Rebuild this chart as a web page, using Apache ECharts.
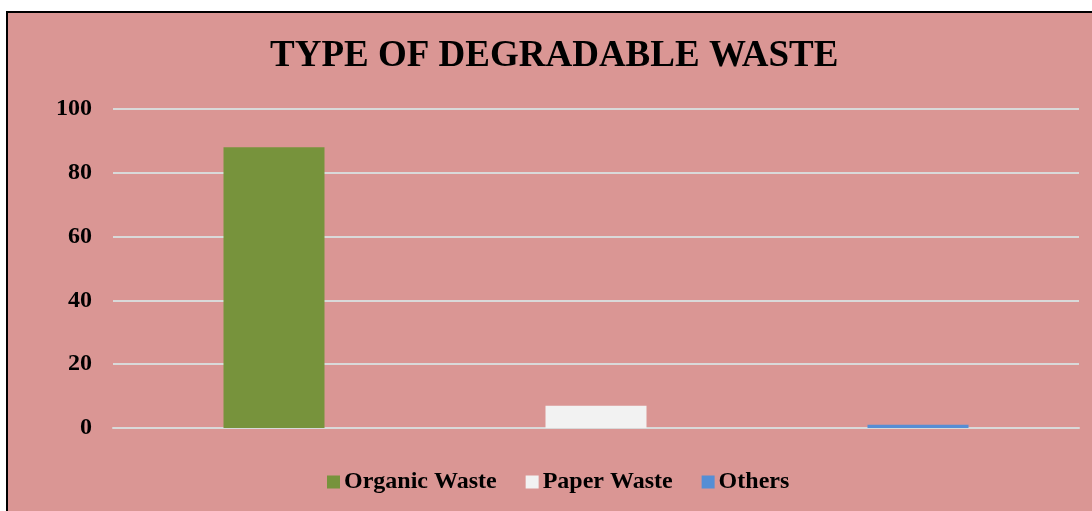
<!DOCTYPE html>
<html>
<head>
<meta charset="utf-8">
<script src="https://cdn.jsdelivr.net/npm/echarts@6/dist/echarts.min.js"></script>
<style>
  html, body { margin: 0; padding: 0; background: #ffffff; overflow: hidden; }
  #frame { position: absolute; left: 6px; top: 11px; width: 1100px; height: 520px;
           border-left: 2px solid #000; border-top: 2px solid #000; background: #DA9694; box-sizing: border-box; }
  #chart { position: absolute; left: 0; top: 0; width: 1092px; height: 511px; }
</style>
</head>
<body>
<div id="frame"></div>
<div id="chart"></div>
<script>
const titleText = 'TYPE OF DEGRADABLE WASTE';
const categories = ['Organic Waste', 'Paper Waste', 'Others'];
const seriesNames = ['Organic Waste', 'Paper Waste', 'Others'];
const organicValues = [88, '-', '-'];
const paperValues = ['-', 7, '-'];
const otherValues = ['-', '-', 1];
const yTicks = [0, 20, 40, 60, 80, 100];

const colors = ['#77933C', '#F2F2F2', '#558ED5'];
const font = '"Liberation Serif", "Times New Roman", serif';

const chart = echarts.init(document.getElementById('chart'), null, { renderer: 'canvas' });
const seriesData = [organicValues, paperValues, otherValues];
chart.setOption({
  backgroundColor: 'transparent',
  animation: false,
  title: {
    text: titleText,
    left: 270,
    top: 38,
    padding: 0,
    textStyle: { fontFamily: font, fontWeight: 'bold', fontSize: 37, color: '#000' }
  },
  legend: {
    data: seriesNames,
    left: 327,
    top: 470,
    padding: 0,
    itemWidth: 13,
    itemHeight: 13,
    itemGap: 29,
    icon: 'rect',
    textStyle: { fontFamily: font, fontWeight: 'bold', fontSize: 24, color: '#000', padding: [0, 0, 0, -1] }
  },
  grid: { left: 113, right: 13, top: 109, bottom: 83, containLabel: false },
  xAxis: {
    type: 'category',
    data: categories,
    axisLine: { show: true, lineStyle: { color: '#D9D9D9', width: 2 } },
    axisTick: { show: false },
    axisLabel: { show: false },
    splitLine: { show: false }
  },
  yAxis: {
    type: 'value',
    min: yTicks[0],
    max: yTicks[yTicks.length - 1],
    interval: yTicks[1] - yTicks[0],
    axisLine: { show: false },
    axisTick: { show: false },
    axisLabel: { fontFamily: font, fontWeight: 'bold', fontSize: 24, color: '#000', margin: 21 },
    splitLine: { lineStyle: { color: '#D9D9D9', width: 2 } }
  },
  series: seriesNames.map((name, i) => ({
    name: name,
    type: 'bar',
    data: seriesData[i],
    barWidth: 101,
    barGap: '-100%',
    itemStyle: { color: colors[i] }
  }))
});
</script>
</body>
</html>
